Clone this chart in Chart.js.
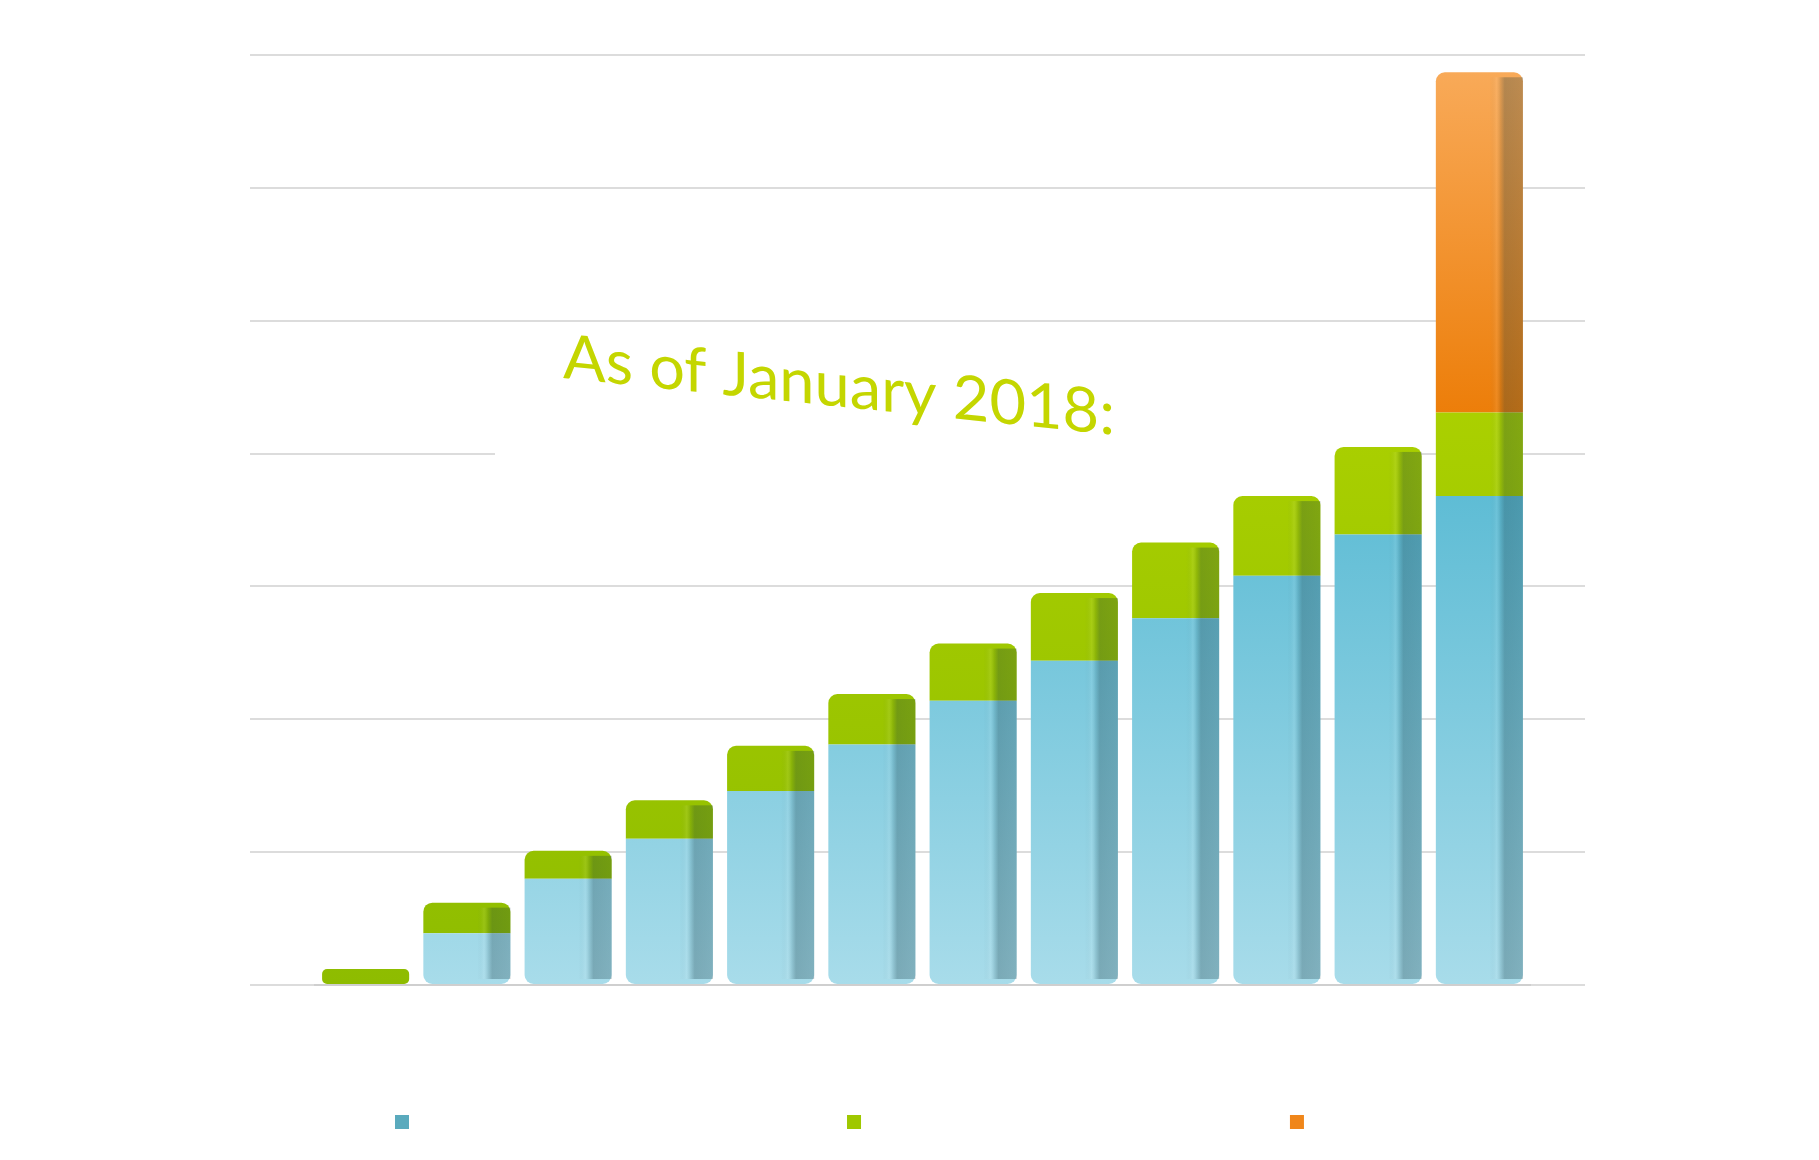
<!DOCTYPE html>
<html>
<head>
<meta charset="utf-8">
<title>As of January 2018</title>
<script src="https://cdn.jsdelivr.net/npm/chart.js@4.4.1/dist/chart.umd.min.js"></script>
<style>
  html, body { margin: 0; padding: 0; background: #fff; }
  #wrap { position: relative; width: 1819px; height: 1160px; }
</style>
</head>
<body>
<div id="wrap"><canvas id="growthChart"></canvas></div>
<script>
const categories = ['1', '2', '3', '4', '5', '6', '7', '8', '9', '10', '11', '12'];
const seriesNames = ['Series 1', 'Series 2', 'Series 3'];
const blueValues = [0, 39, 80, 110, 146, 181, 214, 244, 276, 308, 339, 368];
const greenValues = [12, 23, 21, 29, 34, 38, 43, 51, 57, 60, 66, 63];
const orangeValues = [0, 0, 0, 0, 0, 0, 0, 0, 0, 0, 0, 256];
const yTicks = [0, 100, 200, 300, 400, 500, 600, 700];

const titleText = 'As of January 2018:';
const swatchColors = ['#5aaabd', '#9fc800', '#f0861a'];

// vertical gradient over the plot area, so every bar shares the same light
function fade(stops) {
    return (ctx) => {
        const area = ctx.chart.chartArea;
        if (!area) return stops[stops.length - 1][1];
        const g = ctx.chart.ctx.createLinearGradient(0, area.top, 0, area.bottom);
        stops.forEach(([at, col]) => g.addColorStop(at, col));
        return g;
    };
}

const stacks = [blueValues, greenValues, orangeValues];

// round the outer ends of each stack only
function radiusFor(level) {
    return (ctx) => {
        const i = ctx.dataIndex;
        const below = stacks.slice(0, level).some(s => s[i] > 0);
        const above = stacks.slice(level + 1).some(s => s[i] > 0);
        const r = i === 0 ? 5 : 9;
        return {
            topLeft: above ? 0 : r,
            topRight: above ? 0 : r,
            bottomLeft: below ? 0 : r,
            bottomRight: below ? 0 : r
        };
    };
}

const slantedTitle = {
    id: 'slantedTitle',
    beforeDatasetsDraw(chart) {
        const c = chart.ctx;
        // title box hides the gridline running behind it
        c.save();
        c.fillStyle = '#ffffff';
        c.fillRect(495, 440, 910, 26);
        c.restore();
    },
    afterDraw(chart) {
        const c = chart.ctx;
        c.save();
        c.font = '400 62px Lato';
        const w = c.measureText(titleText).width;
        c.translate(563, 378);
        c.transform(1, 0.103, 0, 1, 0, 0);
        c.scale(552 / w, 1);
        c.fillStyle = '#c4d600';
        c.textBaseline = 'alphabetic';
        c.fillText(titleText, 0, 0);
        c.restore();
    }
};

// darker band on the right of every column, like its side face
const sideShade = {
    id: 'sideShade',
    afterDatasetsDraw(chart) {
        const c = chart.ctx;
        const metas = chart.data.datasets.map((ds, k) => chart.getDatasetMeta(k));
        c.save();
        categories.forEach((cat, i) => {
            let top = Infinity, base = -Infinity, x = 0, width = 0;
            metas.forEach((meta, k) => {
                if (!(stacks[k][i] > 0)) return;
                const p = meta.data[i].getProps(['x', 'y', 'base', 'width'], true);
                top = Math.min(top, p.y);
                base = Math.max(base, p.base);
                x = p.x; width = p.width;
            });
            if (base - top < 24) return;
            const from = x + width * 0.12;
            const to = x + width / 2;
            const g = c.createLinearGradient(from, 0, to, 0);
            g.addColorStop(0, 'rgba(20,55,65,0)');
            g.addColorStop(0.2, 'rgba(255,255,255,0.08)');
            g.addColorStop(0.32, 'rgba(20,55,65,0.12)');
            g.addColorStop(0.45, 'rgba(20,55,65,0.3)');
            g.addColorStop(1, 'rgba(20,55,65,0.26)');
            c.fillStyle = g;
            c.fillRect(from, top + 5, to - from, base - top - 10);
        });
        c.restore();
    }
};

const swatchLegend = {
    id: 'swatchLegend',
    afterDraw(chart) {
        const c = chart.ctx;
        const spots = [0.221, 0.4695, 0.713];
        c.save();
        chart.data.datasets.forEach((ds, k) => {
            const x = chart.width * spots[k];
            c.fillStyle = swatchColors[k];
            c.fillRect(x - 7, 1115, 14, 14);
        });
        c.restore();
    }
};

window.addEventListener('load', () => {
    new Chart(document.getElementById('growthChart'), {
        type: 'bar',
        data: {
            labels: categories,
            datasets: [{
                label: seriesNames[0],
                data: blueValues,
                backgroundColor: fade([[0, '#3ea8c6'], [0.45, '#5bbbd4'], [1, '#a8dcea']]),
                borderRadius: radiusFor(0),
                borderSkipped: false
            }, {
                label: seriesNames[1],
                data: greenValues,
                backgroundColor: fade([[0, '#bcdc00'], [1, '#8ebc00']]),
                borderRadius: radiusFor(1),
                borderSkipped: false
            }, {
                label: seriesNames[2],
                data: orangeValues,
                backgroundColor: fade([[0, '#f9ac5c'], [0.4, '#ec7c06'], [1, '#ec7c06']]),
                borderRadius: radiusFor(2),
                borderSkipped: false
            }]
        },
        options: {
            responsive: true,
            maintainAspectRatio: false,
            animation: false,
            layout: { padding: { left: 250, right: 234, top: 55, bottom: 175 } },
            datasets: { bar: { barPercentage: 0.86, categoryPercentage: 1 } },
            plugins: {
                legend: { display: false },
                title: { display: false }
            },
            scales: {
                x: {
                    stacked: true,
                    grid: { display: false, drawTicks: false },
                    border: { display: true, color: '#cfcfcf', width: 2 },
                    ticks: { display: false }
                },
                y: {
                    stacked: true,
                    min: yTicks[0],
                    max: yTicks[yTicks.length - 1],
                    afterBuildTicks: (axis) => { axis.ticks = yTicks.map(v => ({ value: v })); },
                    ticks: { display: false },
                    grid: { color: '#dcdcdc', lineWidth: 2, tickLength: 65 },
                    border: { display: false }
                },
                y2: {
                    position: 'right',
                    min: yTicks[0],
                    max: yTicks[yTicks.length - 1],
                    afterBuildTicks: (axis) => { axis.ticks = yTicks.map(v => ({ value: v })); },
                    ticks: { display: false },
                    grid: { drawOnChartArea: false, color: '#dcdcdc', lineWidth: 2, tickLength: 55 },
                    border: { display: false }
                }
            }
        },
        plugins: [slantedTitle, sideShade, swatchLegend]
    });
});
</script>
</body>
</html>
